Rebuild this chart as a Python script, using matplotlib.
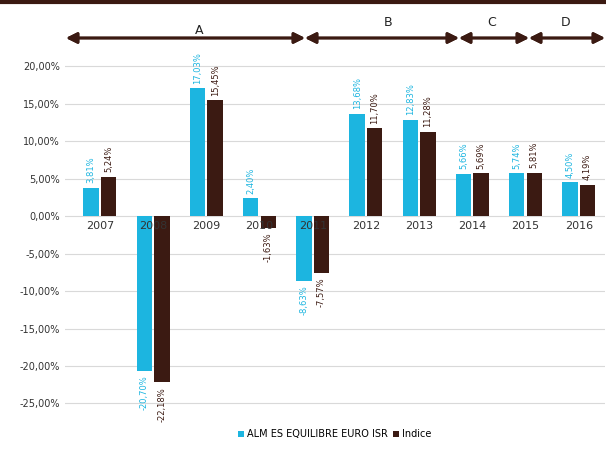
import numpy as np
import matplotlib.pyplot as plt
from matplotlib.lines import Line2D

years = ["2007", "2008", "2009", "2010", "2011", "2012", "2013", "2014", "2015", "2016"]
fonds = [3.81, -20.70, 17.03, 2.40, -8.63, 13.68, 12.83, 5.66, 5.74, 4.50]
indice = [5.24, -22.18, 15.45, -1.63, -7.57, 11.70, 11.28, 5.69, 5.81, 4.19]
periods = ["A", "B", "C", "D"]

blue = "#1cb5e0"
brown = "#3b1a12"

fig = plt.figure(figsize=(6.06, 4.49), dpi=100)
ax = fig.add_axes([0.107, 0.068, 0.891, 0.818])

x = np.arange(len(years))
w = 0.29
d = 0.165
ax.bar(x - d, fonds, w, color=blue, label="ALM ES EQUILIBRE EURO ISR", zorder=3)
ax.bar(x + d, indice, w, color=brown, label="Indice", zorder=3)

def fmt(v):
    return f"{v:.2f}".replace(".", ",") + "%"

for xi, v in zip(x, fonds):
    off = 0.6 if v >= 0 else -0.6
    ax.text(xi - d, v + off, fmt(v), rotation=90, fontsize=6, color=blue,
            ha="center", va="bottom" if v >= 0 else "top", zorder=4)
for xi, v in zip(x, indice):
    off = 0.6 if v >= 0 else -0.6
    ax.text(xi + d, v + off, fmt(v), rotation=90, fontsize=6, color=brown,
            ha="center", va="bottom" if v >= 0 else "top", zorder=4)

# annees juste sous la ligne du zero, par-dessus les barres
for xi, y in zip(x, years):
    ax.text(xi, -0.6, y, ha="center", va="top", fontsize=8, color="#333333", zorder=5)

ax.set_xlim(-0.66, 9.49)
ax.set_ylim(-27, 22)
ax.set_yticks(np.arange(-25, 21, 5))
ax.set_yticklabels([f"{t:.2f}".replace(".", ",") + "%" for t in np.arange(-25, 21, 5)],
                   fontsize=7, color="#333333")
ax.set_xticks([])
ax.tick_params(axis="y", length=0)
ax.grid(axis="y", color="#d9d9d9", linewidth=0.8, zorder=0)
for s in ax.spines.values():
    s.set_visible(False)

leg = ax.legend(loc="upper center", bbox_to_anchor=(0.5, -0.005), ncol=2, frameon=False,
                fontsize=7, handlelength=0.6, handleheight=0.6, handletextpad=0.3,
                columnspacing=0.6)

# ligne du haut
fig.add_artist(Line2D([0, 1], [0.996, 0.996], color=brown, linewidth=3))

# fleches des periodes (pixels -> fraction)
bounds = [66, 305, 459, 529, 605]
label_x = [199, 388, 492, 566]
label_y = [31, 23, 23, 23]
arrow_y = 1 - 38 / 449
for i, p in enumerate(periods):
    x0 = bounds[i] / 606
    x1 = bounds[i + 1] / 606
    fig.add_artist(plt.annotate("", xy=(x1, arrow_y), xytext=(x0, arrow_y),
                                xycoords="figure fraction",
                                arrowprops=dict(arrowstyle="<|-|>", color=brown, lw=2,
                                                mutation_scale=16, shrinkA=0, shrinkB=0)))
    fig.text(label_x[i] / 606, 1 - label_y[i] / 449, p, ha="center", va="center",
             fontsize=9, color="#222222")

fig.savefig("out.png", dpi=100)
